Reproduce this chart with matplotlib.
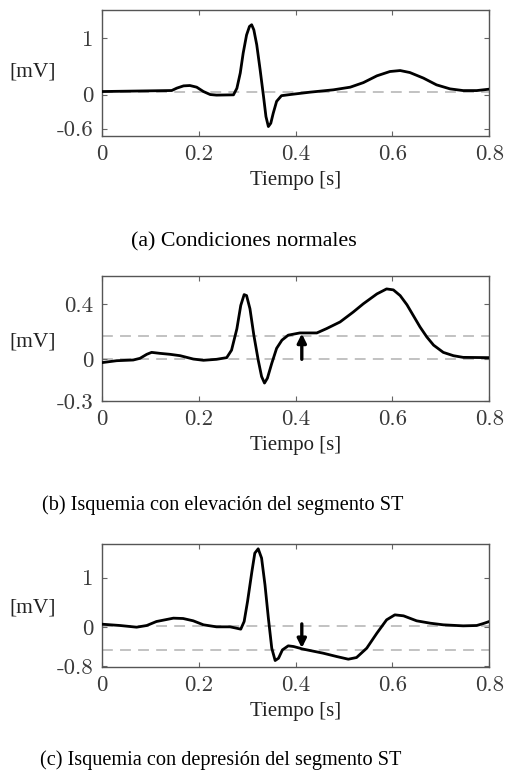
import matplotlib
matplotlib.use('Agg')
import matplotlib.pyplot as plt

plt.rcParams['axes.unicode_minus'] = False

# ------------------------ DATA
xTicks = [0, 0.2, 0.4, 0.6, 0.8]
xTickLabels = ['0', '0.2', '0.4', '0.6', '0.8']

# (a) normal
tA = [0.000, 0.1445, 0.155, 0.169, 0.182, 0.196, 0.210, 0.224, 0.237, 0.272,
      0.279, 0.286, 0.292, 0.299, 0.305, 0.3095, 0.314, 0.320, 0.327, 0.334,
      0.339, 0.344, 0.349, 0.354, 0.361, 0.371, 0.389, 0.430, 0.478, 0.513,
      0.540, 0.568, 0.595, 0.616, 0.636, 0.664, 0.691, 0.719, 0.746, 0.774,
      0.800]
vA = [0.053, 0.071, 0.113, 0.153, 0.159, 0.130, 0.053, 0.000, -0.010, -0.005,
      0.110, 0.380, 0.730, 1.050, 1.200, 1.230, 1.140, 0.877, 0.436, -0.035,
      -0.388, -0.564, -0.505, -0.330, -0.120, -0.020, 0.000, 0.042, 0.083, 0.130,
      0.210, 0.330, 0.406, 0.423, 0.388, 0.290, 0.171, 0.100, 0.070, 0.070,
      0.095]
refA = [0.042]
yTicksA = [-0.6, 0, 1]
yTickLabelsA = ['-0.6', '0', '1']

# (b) ST elevation
tB = [0.000, 0.031, 0.065, 0.079, 0.093, 0.103, 0.120, 0.141, 0.162, 0.189,
      0.210, 0.237, 0.258, 0.268, 0.279, 0.287, 0.294, 0.299, 0.306, 0.314,
      0.323, 0.330, 0.336, 0.342, 0.351, 0.361, 0.372, 0.385, 0.409, 0.444,
      0.464, 0.492, 0.519, 0.540, 0.568, 0.588, 0.602, 0.616, 0.630, 0.643,
      0.657, 0.671, 0.685, 0.705, 0.726, 0.746, 0.800]
vB = [-0.024, -0.010, -0.005, 0.007, 0.036, 0.050, 0.043, 0.036, 0.026, 0.002,
      -0.007, 0.000, 0.012, 0.066, 0.220, 0.388, 0.466, 0.459, 0.364, 0.174,
      -0.005, -0.124, -0.171, -0.136, -0.029, 0.079, 0.138, 0.174, 0.190, 0.190,
      0.221, 0.269, 0.340, 0.400, 0.471, 0.507, 0.500, 0.459, 0.393, 0.316,
      0.233, 0.161, 0.102, 0.050, 0.026, 0.014, 0.012]
refB = [0.0, 0.169]
yTicksB = [-0.3, 0, 0.4]
yTickLabelsB = ['-0.3', '0', '0.4']
arrowB = (0.413, 0.0, 0.185)

# (c) ST depression
tC = [0.000, 0.038, 0.072, 0.093, 0.113, 0.148, 0.168, 0.189, 0.210, 0.237,
      0.265, 0.278, 0.287, 0.294, 0.301, 0.310, 0.316, 0.323, 0.330, 0.337,
      0.344, 0.351, 0.358, 0.365, 0.373, 0.385, 0.396, 0.409, 0.413, 0.457,
      0.485, 0.509, 0.526, 0.547, 0.568, 0.588, 0.605, 0.623, 0.650, 0.678,
      0.705, 0.746, 0.774, 0.788, 0.800]
vC = [0.054, 0.027, -0.007, 0.027, 0.108, 0.176, 0.169, 0.122, 0.041, 0.000,
      0.000, -0.027, -0.047, 0.108, 0.514, 1.120, 1.494, 1.582, 1.393, 0.852,
      0.176, -0.433, -0.683, -0.636, -0.467, -0.385, -0.399, -0.433, -0.446, -0.534,
      -0.602, -0.656, -0.622, -0.433, -0.128, 0.142, 0.243, 0.223, 0.122, 0.074,
      0.041, 0.020, 0.027, 0.068, 0.108]
refC = [0.027, -0.467]
yTicksC = [-0.8, 0, 1]
yTickLabelsC = ['-0.8', '0', '1']
arrowC = (0.413, 0.06, -0.43)

captions = ['(a) Condiciones normales',
            '(b) Isquemia con elevación del segmento ST',
            '(c) Isquemia con depresión del segmento ST']

#------------------------ PLOT
my_dpi = 100
fig = plt.figure(figsize=(508 / my_dpi, 781 / my_dpi), dpi=my_dpi)

cmFont = 'cmr10'
serif = 'Liberation Serif'
grey = '#3a3a3a'

def ecgPanel(rect, t, v, refs, ylim, yticks, ylabels, arrow, caption, ylabY, capX, capY, capSize):
    ax = fig.add_axes(rect)
    for r in refs:
        ax.axhline(r, color='#bdbdbd', lw=1.3, dashes=(6, 4), zorder=1)
    ax.plot(t, v, color='black', lw=2.0, solid_joinstyle='round',
            solid_capstyle='round', zorder=3)
    if arrow is not None:
        ax.annotate('', xy=(arrow[0], arrow[2]), xytext=(arrow[0], arrow[1]),
                    arrowprops=dict(arrowstyle='-|>', color='black', lw=2.4,
                                    mutation_scale=13, shrinkA=0, shrinkB=0),
                    zorder=4)
    ax.set_xlim(0, 0.8)
    ax.set_ylim(*ylim)
    ax.set_xticks(xTicks)
    ax.set_xticklabels(xTickLabels, family=cmFont, fontsize=16.5, color=grey)
    ax.set_yticks(yticks)
    ax.set_yticklabels(ylabels, family=cmFont, fontsize=16.5, color=grey)
    ax.tick_params(direction='in', length=3.5, width=0.8, color='#666666',
                   top=True, right=True, pad=6)
    for s in ax.spines.values():
        s.set_color('#555555')
        s.set_linewidth(1.0)
    ax.set_xlabel('Tiempo [s]', family=serif, fontsize=15, color='#222222',
                  labelpad=5)
    fig.text(33 / 508, 1 - ylabY / 781, '[mV]', family=serif, fontsize=15.5,
             color='#222222', ha='center', va='center')
    fig.text(capX / 508, 1 - capY / 781, caption, family=serif,
             fontsize=capSize, ha='center', va='center')
    return ax

ecgPanel([0.2002, 0.8259, 0.763, 0.1613], tA, vA, refA, (-0.73, 1.49),
         yTicksA, yTickLabelsA, None, captions[0], 72, 244, 242, 15.8)
ecgPanel([0.2002, 0.4866, 0.763, 0.1600], tB, vB, refB, (-0.3, 0.6),
         yTicksB, yTickLabelsB, arrowB, captions[1], 342, 222.5, 505, 14.6)
ecgPanel([0.2002, 0.1456, 0.763, 0.1579], tC, vC, refC, (-0.82, 1.68),
         yTicksC, yTickLabelsC, arrowC, captions[2], 608, 221, 760, 14.6)

fig.savefig('out.png', dpi=my_dpi)
plt.close(fig)
